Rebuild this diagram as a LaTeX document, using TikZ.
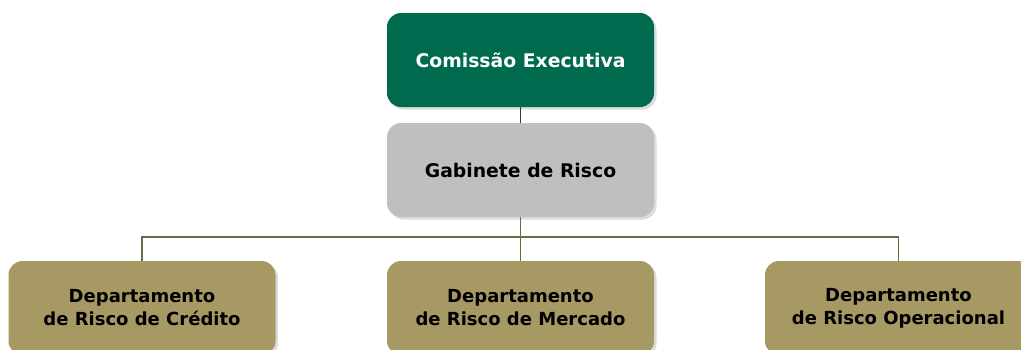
\documentclass[tikz,border=0pt]{standalone}
\usepackage{fontspec}
\setmainfont{DejaVu Sans}
\usetikzlibrary{shadows}
\definecolor{cegreen}{HTML}{006A4E}
\definecolor{grbox}{HTML}{BFBFBF}
\definecolor{tanbox}{HTML}{A69963}
\definecolor{olive}{HTML}{5E7140}
\definecolor{darkln}{HTML}{3A3A3A}
\definecolor{shadowc}{HTML}{DCDCDC}
\begin{document}
\begin{tikzpicture}[x=1pt,y=-1pt,
  orgbox/.style={rounded corners=14pt, minimum width=267pt, minimum height=94pt,
    inner sep=0pt, align=center, font=\fontsize{18}{23}\selectfont\bfseries,
    drop shadow={shadow xshift=2.5pt, shadow yshift=-2.5pt, fill=shadowc, opacity=1}},
  topbox/.style={orgbox, fill=cegreen, text=white, font=\fontsize{18.8}{23}\selectfont\bfseries},
  midbox/.style={orgbox, fill=grbox, text=black, font=\fontsize{18.8}{23}\selectfont\bfseries},
  deptbox/.style={orgbox, fill=tanbox, text=black},
  olivelink/.style={draw=olive, line width=1.3pt},
  darklink/.style={draw=darkln, line width=1.6pt}]
\useasboundingbox (0,0) rectangle (1021,349);
\fill[white] (0,0) rectangle (1021,349);
\node[topbox] (ce) at (520.5,60) {Comissão Executiva};
\node[midbox] (gr) at (520.5,170) {Gabinete de Risco};
\node[deptbox] (d1) at (142,308) {Departamento\\de Risco de Crédito};
\node[deptbox] (d2) at (520.5,308) {Departamento\\de Risco de Mercado};
\node[deptbox] (d3) at (898.5,308) {Departamento\\de Risco Operacional};
\coordinate (bus) at (520.5,237);
\draw[darklink] (ce.south) -- (gr.north);
\draw[olivelink] (gr.south) -- (d2.north);
\draw[olivelink] (d1.north) |- (bus) -| (d3.north);
\end{tikzpicture}
\end{document}
